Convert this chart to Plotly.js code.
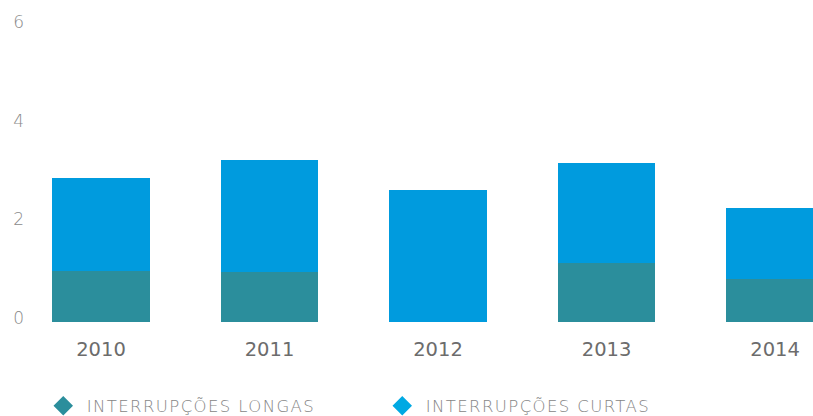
<!DOCTYPE html>
<html>
<head>
<meta charset="utf-8">
<script src="https://cdn.plot.ly/plotly-3.0.1.min.js"></script>
<style>
html,body{margin:0;padding:0;overflow:hidden;background:#fff;width:813px;height:416px;}
#chart{width:813px;height:432px;}
#chart .legendtext{letter-spacing:1.4px;}
</style>
</head>
<body>
<div id="chart"></div>
<script>
var years = ['2010', '2011', '2012', '2013', '2014'];
var longas = [1.03, 1.01, 0, 1.20, 0.87];
var curtas = [1.89, 2.28, 2.68, 2.03, 1.44];
var yTicks = [0, 2, 4, 6];
var seriesNames = ['INTERRUPÇÕES LONGAS', 'INTERRUPÇÕES CURTAS'];
var colLonga = '#2B8E9C';
var colCurta = '#009BDE';

var traces = [
  {type: 'bar', x: years, y: longas, marker: {color: colLonga}, showlegend: false, hoverinfo: 'skip'},
  {type: 'bar', x: years, y: curtas, marker: {color: colCurta}, showlegend: false, hoverinfo: 'skip'},
  {type: 'scatter', mode: 'markers', x: [null], y: [null], name: seriesNames[0],
   marker: {symbol: 'diamond', size: 15, color: colLonga}, showlegend: true},
  {type: 'scatter', mode: 'markers', x: [null], y: [null], name: seriesNames[1],
   marker: {symbol: 'diamond', size: 15, color: '#00A9E3'}, showlegend: true}
];

var layout = {
  width: 813, height: 432,
  margin: {l: 28, r: 0, t: 26, b: 110},
  paper_bgcolor: '#fff', plot_bgcolor: '#fff',
  barmode: 'stack',
  bargap: 0.42,
  font: {family: '"DejaVu Sans", sans-serif', color: '#808080'},
  xaxis: {
    type: 'category', range: [-0.433, 4.225],
    showgrid: false, zeroline: false, showline: false,
    ticks: 'outside', ticklen: 10, tickcolor: 'rgba(0,0,0,0)',
    tickfont: {size: 19.5, color: '#6c6c6c'}
  },
  yaxis: {
    range: [0, 6], tickvals: yTicks, ticktext: yTicks.map(String),
    showgrid: false, zeroline: false, showline: false,
    ticklabelstandoff: 3, ticklabelshift: -4,
    tickfont: {size: 17, color: '#8a8a8a', weight: 300}
  },
  legend: {
    orientation: 'h', traceorder: 'normal',
    x: 0.015, xanchor: 'left', y: -0.2838, yanchor: 'middle',
    font: {size: 16.5, color: '#858585', weight: 300},
    itemwidth: 37,
    entrywidth: 287, entrywidthmode: 'pixels',
    itemclick: false, itemdoubleclick: false
  },
  showlegend: true
};

Plotly.newPlot('chart', traces, layout, {staticPlot: true, displayModeBar: false});
</script>
</body>
</html>
